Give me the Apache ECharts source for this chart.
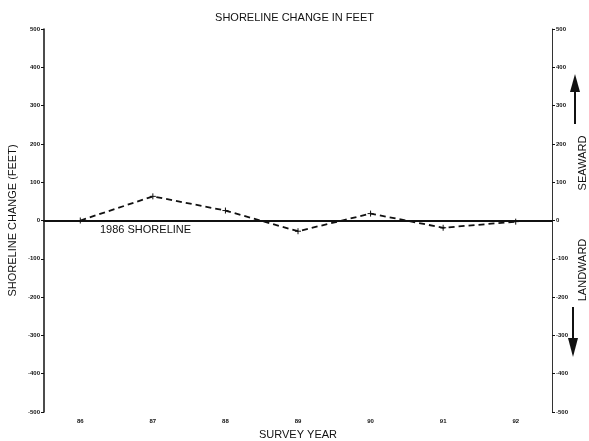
<!DOCTYPE html>
<html>
<head>
<meta charset="utf-8">
<script src="https://cdn.jsdelivr.net/npm/echarts@6/dist/echarts.min.js"></script>
<style>
  html, body { margin: 0; padding: 0; background: #fff; }
  #main { width: 589px; height: 441px; }
</style>
</head>
<body>
<div id="main"></div>
<script>
// survey years (x) and shoreline change in feet (y)
const years = [86, 87, 88, 89, 90, 91, 92]
const change = [0, 63, 26, -28, 18, -19, -3]
const yTicks = [-500, -400, -300, -200, -100, 0, 100, 200, 300, 400, 500]

const chart = echarts.init(document.getElementById('main'))
const font = 'Liberation Sans, Arial, sans-serif'
const tickLabel = { fontSize: 6, color: '#111', fontFamily: font, fontWeight: 'bold', margin: 4 }

const option = {
  animation: false,
  title: {
    text: 'SHORELINE CHANGE IN FEET',
    left: 'center',
    top: 7,
    textStyle: { fontSize: 11, fontWeight: 'normal', color: '#111', fontFamily: font }
  },
  grid: { left: 44, right: 37, top: 29, bottom: 29, outerBoundsMode: 'none', containLabel: false },
  xAxis: [
    {
      type: 'value',
      min: 85.5,
      max: 92.5,
      interval: 0.5,
      name: 'SURVEY YEAR',
      nameLocation: 'middle',
      nameGap: 17,
      nameTextStyle: { fontSize: 11, color: '#111', fontFamily: font },
      axisLine: { lineStyle: { color: '#111', width: 2 } },
      axisTick: { show: false },
      splitLine: { show: false },
      axisLabel: Object.assign({}, tickLabel, {
        margin: 6,
        showMinLabel: false,
        showMaxLabel: false,
        formatter: v => (Number.isInteger(v) ? String(v) : '')
      })
    },
    {
      type: 'value',
      position: 'top',
      min: 85.5,
      max: 92.5,
      axisLine: { show: true, lineStyle: { color: '#111', width: 1 } },
      axisTick: { show: false },
      axisLabel: { show: false },
      splitLine: { show: false }
    }
  ],
  yAxis: [
    {
      type: 'value',
      min: yTicks[0],
      max: yTicks[yTicks.length - 1],
      interval: 100,
      name: 'SHORELINE CHANGE (FEET)',
      nameLocation: 'middle',
      nameGap: 26,
      nameMoveOverlap: false,
      nameTextStyle: { fontSize: 11, color: '#111', fontFamily: font },
      axisLine: { show: true, lineStyle: { color: '#111', width: 1.5 } },
      axisTick: { show: true, inside: false, length: 3, lineStyle: { color: '#111' } },
      splitLine: { show: false },
      axisLabel: tickLabel
    },
    {
      type: 'value',
      position: 'right',
      min: yTicks[0],
      max: yTicks[yTicks.length - 1],
      interval: 100,
      axisLine: { show: true, lineStyle: { color: '#333', width: 1 } },
      axisTick: { show: true, length: 3, lineStyle: { color: '#111' } },
      splitLine: { show: false },
      axisLabel: tickLabel
    }
  ],
  series: [
    {
      type: 'line',
      data: years.map((y, i) => [y, change[i]]),
      symbol: 'path://M0,5L10,5M5,0L5,10',
      symbolSize: 6,
      itemStyle: { color: '#111', borderColor: '#111', borderWidth: 1 },
      lineStyle: { color: '#111', width: 1.8, type: [6, 4] },
      markLine: {
        silent: true,
        symbol: 'none',
        label: { show: false },
        lineStyle: { color: '#111', width: 1.2, type: 'solid' },
        data: [{ yAxis: 0 }]
      }
    }
  ],
  graphic: [
    {
      type: 'text',
      left: 100,
      top: 224,
      style: { text: '1986 SHORELINE', fontSize: 11, fill: '#111', fontFamily: font }
    },
    {
      type: 'text',
      x: 583,
      y: 163,
      rotation: Math.PI / 2,
      style: { text: 'SEAWARD', fontSize: 11, fill: '#111', fontFamily: font, align: 'center', verticalAlign: 'middle' }
    },
    {
      type: 'text',
      x: 583,
      y: 270,
      rotation: Math.PI / 2,
      style: { text: 'LANDWARD', fontSize: 11, fill: '#111', fontFamily: font, align: 'center', verticalAlign: 'middle' }
    },
    {
      type: 'line',
      shape: { x1: 575, y1: 124, x2: 575, y2: 88 },
      style: { stroke: '#111', lineWidth: 2 }
    },
    {
      type: 'polygon',
      shape: { points: [[575, 74], [570, 92], [580, 92]] },
      style: { fill: '#111' }
    },
    {
      type: 'line',
      shape: { x1: 573, y1: 307, x2: 573, y2: 342 },
      style: { stroke: '#111', lineWidth: 2 }
    },
    {
      type: 'polygon',
      shape: { points: [[573, 357], [568, 338], [578, 338]] },
      style: { fill: '#111' }
    }
  ]
}

chart.setOption(option)
</script>
</body>
</html>
